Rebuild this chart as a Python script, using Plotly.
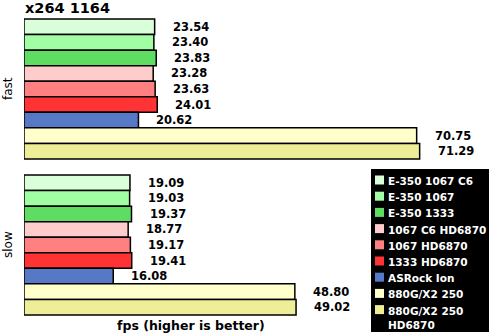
import plotly.graph_objects as go

categories = ["fast", "slow"]
series_names = ["E-350 1067 C6", "E-350 1067", "E-350 1333", "1067 C6 HD6870",
                "1067 HD6870", "1333 HD6870", "ASRock Ion", "880G/X2 250",
                "880G/X2 250 HD6870"]
legend_labels = ["E-350 1067 C6", "E-350 1067", "E-350 1333", "1067 C6 HD6870",
                 "1067 HD6870", "1333 HD6870", "ASRock Ion", "880G/X2 250",
                 "880G/X2 250<br>HD6870"]
fast_values = [23.54, 23.40, 23.83, 23.28, 23.63, 24.01, 20.62, 70.75, 71.29]
slow_values = [19.09, 19.03, 19.37, 18.77, 19.17, 19.41, 16.08, 48.80, 49.02]
colors = ["#d9fed9", "#a2fea2", "#5fdc62", "#ffcccc", "#ff8080", "#ff3333",
          "#5777c7", "#ffffcc", "#eeee99"]
title_text = "x264 1164"
x_title = "fps (higher is better)"

W, H = 495, 335
ml, mr, mt, mb = 24, 27, 11, 12
pw, ph = W - ml - mr, H - mt - mb
FONT = "DejaVu Sans"
bargap = 0.103
n = len(series_names)


def px2x(px):
    return (px - ml) / pw


def py2y(py):
    return 1 - (py - mt) / ph


fig = go.Figure()
for i, name in enumerate(series_names):
    fig.add_trace(go.Bar(
        y=categories, x=[fast_values[i], slow_values[i]], name=name,
        orientation="h", marker=dict(color=colors[i], line=dict(color="black", width=1.5)),
        showlegend=False, hoverinfo="skip"))

annotations = []
bw = (1 - bargap) / n
for gi, vals in enumerate([fast_values, slow_values]):
    for i, v in enumerate(vals):
        annotations.append(dict(
            x=v, y=gi + (i - (n - 1) / 2) * bw, xref="x", yref="y",
            text=f"{v:.2f}", showarrow=False, xanchor="left", yanchor="middle",
            xshift=16, font=dict(family=FONT, size=11.5, color="black", weight="bold")))

annotations.append(dict(x=px2x(23), y=py2y(8), xref="paper", yref="paper",
                        text=title_text, showarrow=False, xanchor="left", yanchor="middle",
                        font=dict(family=FONT, size=14.5, color="black", weight="bold")))
annotations.append(dict(x=px2x(191), y=py2y(325), xref="paper", yref="paper",
                        text=x_title, showarrow=False, xanchor="center", yanchor="middle",
                        font=dict(family=FONT, size=12.5, color="black", weight="bold")))
for gi, c in enumerate(categories):
    annotations.append(dict(x=px2x(8), y=gi, xref="paper", yref="y", text=c,
                            textangle=-90, showarrow=False, xanchor="center",
                            yanchor="middle",
                            font=dict(family=FONT, size=12, color="black")))

# custom legend
shapes = [dict(type="rect", xref="paper", yref="paper", x0=px2x(371), x1=px2x(489),
               y0=py2y(332), y1=py2y(169), fillcolor="black", line=dict(width=0),
               layer="above")]
for i, lab in enumerate(legend_labels):
    cy = 180 + 16.2 * i
    shapes.append(dict(type="rect", xref="paper", yref="paper", x0=px2x(375), x1=px2x(384),
                       y0=py2y(cy + 4.5), y1=py2y(cy - 4.5), fillcolor=colors[i],
                       line=dict(width=0), layer="above"))
    annotations.append(dict(x=px2x(386), y=py2y(cy - 7), xref="paper", yref="paper",
                            text=lab, showarrow=False, xanchor="left", yanchor="top",
                            align="left",
                            font=dict(family=FONT, size=10.5, color="white", weight="bold")))

fig.update_layout(
    width=W, height=H, margin=dict(l=ml, r=mr, t=mt, b=mb),
    paper_bgcolor="white", plot_bgcolor="white",
    barmode="group", bargap=bargap, bargroupgap=0,
    xaxis=dict(range=[0, 80], showgrid=False, zeroline=False, showticklabels=False,
               showline=False),
    yaxis=dict(autorange="reversed", showgrid=False, zeroline=False,
               showticklabels=False, showline=False),
    annotations=annotations, shapes=shapes, showlegend=False,
)

fig.write_html("out.html")
